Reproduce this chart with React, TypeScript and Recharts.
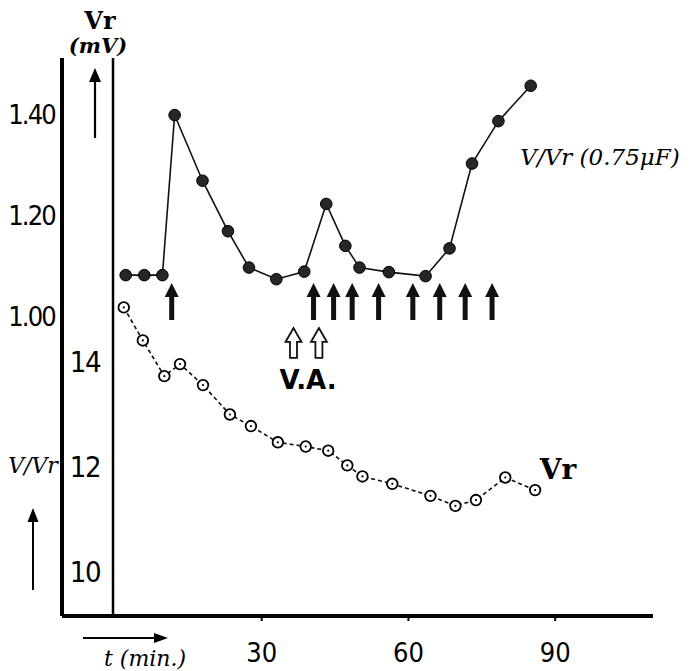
import { ComposedChart, Line, Scatter, XAxis, YAxis } from 'recharts'

// V/Vr (0.75 µF) — filled dots
const ratioTime = [2.2, 6.0, 9.7, 12.2, 17.9, 23.1, 27.4, 33.0, 38.7, 43.2, 47.1, 50.0, 56.0, 63.5, 68.4, 73.0, 78.4, 85.0]
const ratioValue = [1.081, 1.081, 1.081, 1.398, 1.268, 1.168, 1.096, 1.073, 1.088, 1.222, 1.139, 1.096, 1.087, 1.079, 1.134, 1.302, 1.386, 1.456]

// Vr (mV) — open dots
const vrTime = [1.8, 5.7, 10.1, 13.3, 18.0, 23.5, 27.8, 33.3, 39.0, 43.6, 47.5, 50.6, 56.7, 64.5, 69.6, 73.8, 79.8, 85.9]
const vrValue = [15.04, 14.41, 13.73, 13.96, 13.56, 13.0, 12.78, 12.47, 12.39, 12.31, 12.03, 11.82, 11.68, 11.45, 11.26, 11.37, 11.8, 11.56]

// stimulus arrows (filled) and V.A. arrows (open)
const stimTimes = [11.6, 40.6, 44.7, 48.5, 53.9, 60.9, 66.4, 71.6, 77.1]
const vaTimes = [36.5, 41.7]
const stimLevel = 0.992
const vaLevel = 0.917

const xTicks = [30, 60, 90]
const ratioTicks = [1.0, 1.2, 1.4]
const vrTicks = [10, 12, 14]

const ratioData = ratioTime.map((t, i) => ({ t, v: ratioValue[i] }))
const vrData = vrTime.map((t, i) => ({ t, v: vrValue[i] }))
const stimData = stimTimes.map(t => ({ t, y: stimLevel }))
const vaData = vaTimes.map(t => ({ t, y: vaLevel }))

const numFont = "'Liberation Sans Narrow', 'DejaVu Sans Condensed', sans-serif"
const handFont = "'DejaVu Serif', 'Liberation Serif', serif"

const FilledArrow = ({ cx, cy }: any) => (
  <path
    d={`M${cx - 2.5},${cy} L${cx - 2.5},${cy - 23} L${cx - 7},${cy - 23} L${cx},${cy - 37} L${cx + 7},${cy - 23} L${cx + 2.5},${cy - 23} L${cx + 2.5},${cy} Z`}
    fill="#111"
  />
)

const OpenArrow = ({ cx, cy }: any) => (
  <path
    d={`M${cx - 3.5},${cy} L${cx - 3.5},${cy - 16} L${cx - 8},${cy - 16} L${cx},${cy - 30} L${cx + 8},${cy - 16} L${cx + 3.5},${cy - 16} L${cx + 3.5},${cy} Z`}
    fill="#fff"
    stroke="#111"
    strokeWidth={1.8}
  />
)

const Label = ({ x, y, size, style, children }: any) => (
  <div
    style={{
      position: 'absolute',
      left: x,
      top: y,
      transform: 'translate(-50%, -50%)',
      fontSize: size,
      whiteSpace: 'nowrap',
      color: '#000',
      lineHeight: 1,
      ...style
    }}
  >
    {children}
  </div>
)

export default function App() {
  return (
    <div style={{ position: 'relative', width: 676, height: 663 }}>
      <style>{'body { margin-bottom: 0; }'}</style>
      <ComposedChart width={676} height={663} margin={{ top: 50, right: 31, bottom: 15, left: 0 }}>
        <XAxis
          type="number"
          dataKey="t"
          domain={[-0.4, 110]}
          ticks={xTicks}
          allowDataOverflow
          height={40}
          tickSize={5}
          tickMargin={22}
          axisLine={{ stroke: '#000', strokeWidth: 4 }}
          tickLine={{ stroke: '#000', strokeWidth: 2 }}
          tick={{ fontSize: 27, fill: '#000', fontFamily: numFont }}
        />
        {/* Vr axis sits next to the plot, V/Vr axis outside it */}
        <YAxis
          yAxisId="inner"
          type="number"
          domain={[9.162, 19.79]}
          ticks={vrTicks}
          allowDataOverflow
          width={51}
          tickSize={0}
          tickMargin={13}
          tickLine={false}
          axisLine={{ stroke: '#000', strokeWidth: 2.5 }}
          tick={{ fontSize: 29, fill: '#000', fontFamily: numFont, letterSpacing: -1.5 }}
        />
        <YAxis
          yAxisId="outer"
          type="number"
          domain={[0.406, 1.511]}
          ticks={ratioTicks}
          allowDataOverflow
          width={54}
          tickSize={0}
          tickMargin={7}
          tickLine={false}
          tickFormatter={(v: number) => v.toFixed(2)}
          axisLine={{ stroke: '#000', strokeWidth: 4 }}
          tick={{ fontSize: 27, fill: '#000', fontFamily: numFont, letterSpacing: -1.8 }}
        />
        <Line
          yAxisId="outer"
          data={ratioData}
          dataKey="v"
          type="linear"
          stroke="#111"
          strokeWidth={1.6}
          isAnimationActive={false}
          dot={(p: any) => (
            <circle key={`r${p.index}`} cx={p.cx} cy={p.cy} r={5.8} fill="#262626" stroke="#000" strokeWidth={1} />
          )}
        />
        <Line
          yAxisId="inner"
          data={vrData}
          dataKey="v"
          type="linear"
          stroke="#111"
          strokeWidth={1.6}
          strokeDasharray="4 3"
          isAnimationActive={false}
          dot={(p: any) => (
            <g key={`v${p.index}`}>
              <circle cx={p.cx} cy={p.cy} r={5.3} fill="#fff" stroke="#000" strokeWidth={1.8} />
              <circle cx={p.cx} cy={p.cy} r={1.1} fill="#000" />
            </g>
          )}
        />
        <Scatter yAxisId="outer" data={stimData} dataKey="y" isAnimationActive={false} shape={(p: any) => <FilledArrow cx={p.cx} cy={p.cy} />} />
        <Scatter yAxisId="outer" data={vaData} dataKey="y" isAnimationActive={false} shape={(p: any) => <OpenArrow cx={p.cx} cy={p.cy} />} />
      </ComposedChart>

      <svg width={676} height={663} style={{ position: 'absolute', left: 0, top: 0, pointerEvents: 'none' }}>
        <line x1={54} x2={105} y1={608} y2={608} stroke="#000" strokeWidth={4} />
        <line x1={87} x2={87} y1={130} y2={68} stroke="#000" strokeWidth={2.2} />
        <path d="M81,74 L87,60 L93,74 Z" fill="#000" />
        <line x1={25} x2={25} y1={582} y2={508} stroke="#000" strokeWidth={2} />
        <path d="M19.5,514 L25,500 L30.5,514 Z" fill="#000" />
        <line x1={75} x2={152} y1={630} y2={630} stroke="#000" strokeWidth={2} />
        <path d="M146,625 L160,630 L146,635 Z" fill="#000" />
      </svg>

      <Label x={92} y={13} size={24} style={{ fontFamily: handFont, fontWeight: 'bold' }}>Vr</Label>
      <Label x={90} y={37} size={21} style={{ fontFamily: handFont, fontStyle: 'italic', fontWeight: 'bold' }}>(mV)</Label>
      <Label x={25} y={458} size={22} style={{ fontFamily: handFont, fontStyle: 'italic' }}>V/Vr</Label>
      <Label x={137} y={651} size={22} style={{ fontFamily: handFont, fontStyle: 'italic' }}>t (min.)</Label>
      <Label x={592} y={149} size={23} style={{ fontFamily: handFont, fontStyle: 'italic' }}>V/Vr (0.75μF)</Label>
      <Label x={550} y={462} size={28} style={{ fontFamily: handFont, fontWeight: 'bold' }}>Vr</Label>
      <Label x={300} y={372} size={26} style={{ fontFamily: "'DejaVu Sans', sans-serif", fontWeight: 'bold' }}>V.A.</Label>
    </div>
  )
}
